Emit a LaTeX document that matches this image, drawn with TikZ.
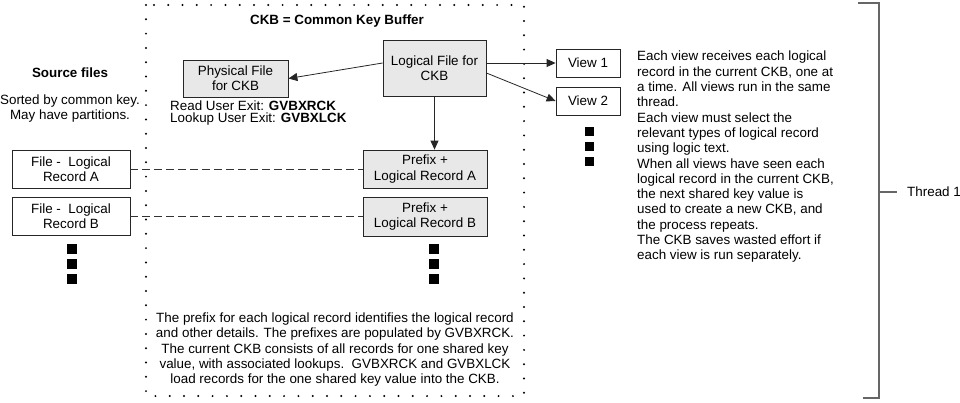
\documentclass[tikz,border=0pt]{standalone}
\usepackage{fontspec}
\setmainfont{Liberation Sans}
\usetikzlibrary{arrows.meta}
\begin{document}
\begin{tikzpicture}[x=1pt,y=-1pt,
  every node/.style={font=\fontsize{13.4}{15.3}\selectfont},
  greybox/.style={draw=black!85, line width=0.8pt, fill=black!9, align=center, inner sep=0pt},
  whitebox/.style={draw=black!85, line width=0.8pt, fill=white, align=center, inner sep=0pt},
  conn/.style={draw=black!85, line width=0.8pt, -{Triangle[length=9pt,width=8pt]}},
  dashconn/.style={draw=black!80, line width=0.8pt, dash pattern=on 8pt off 4pt},
  sq/.style={fill=black, draw=none, minimum size=9.5pt, inner sep=0pt},
  plain/.style={inner sep=0pt},
  frame/.style={draw=black, line width=2.2pt, line cap=round, dash pattern=on 0pt off 14.3pt},
  bracket/.style={draw=black!60, line width=1.3pt}
]
\useasboundingbox (0,0) rectangle (960,402);

% dotted frame
\draw[frame] (146,5) rectangle (524,396);

% title
\node[plain, font=\fontsize{13.4}{15.3}\selectfont\bfseries] (title) at (337,21) {CKB = Common Key Buffer};

% boxes inside frame
\node[greybox, minimum width=105pt, minimum height=37pt] (phys) at (235.5,78.5) {Physical File\\for CKB};
\node[greybox, minimum width=103pt, minimum height=56pt] (logical) at (434.5,68) {Logical File for\\CKB};
\node[plain, anchor=north west, align=left, font=\fontsize{13.4}{12}\selectfont] (exits) at (170,100.5)
  {Read User Exit: \textbf{GVBXRCK}\\Lookup User Exit: \textbf{GVBXLCK}};
\node[greybox, minimum width=124pt, minimum height=38pt] (prefA) at (425,169) {Prefix +\\Logical Record A};
\node[greybox, minimum width=124pt, minimum height=39pt] (prefB) at (425,216.5) {Prefix +\\Logical Record B};

\node[sq] (pq1) at (434,249) {};
\node[sq] (pq2) at (434,264) {};
\node[sq] (pq3) at (434,279) {};

% bottom text
\node[plain, anchor=north, align=center] (note) at (335,312.5)
  {The prefix for each logical record identifies the logical record\\
   and other details. The prefixes are populated by GVBXRCK.\\
   The current CKB consists of all records for one shared key\\
   value, with associated lookups.\ \ GVBXRCK and GVBXLCK\\
   load records for the one shared key value into the CKB.};

% left side
\node[plain, font=\fontsize{13.4}{15.3}\selectfont\bfseries] (src) at (70,73) {Source files};
\node[plain, align=center, anchor=north] (sorted) at (70,94.5) {Sorted by common key.\\May have partitions.};
\node[whitebox, minimum width=118pt, minimum height=38pt] (fileA) at (71,169) {File -\ \ Logical\\Record A};
\node[whitebox, minimum width=118pt, minimum height=38pt] (fileB) at (71,216.5) {File -\ \ Logical\\Record B};
\node[sq] (fq1) at (72,249) {};
\node[sq] (fq2) at (72,264) {};
\node[sq] (fq3) at (72,279) {};

% views
\node[whitebox, minimum width=64pt, minimum height=28pt] (view1) at (588,63) {View 1};
\node[whitebox, minimum width=64pt, minimum height=28pt] (view2) at (588,101) {View 2};
\node[sq, minimum size=9pt] (vq1) at (589,131) {};
\node[sq, minimum size=9pt] (vq2) at (589,146) {};
\node[sq, minimum size=9pt] (vq3) at (589,161) {};

% right text
\node[plain, anchor=north west, align=left] (desc) at (637,51)
  {Each view receives each logical\\
   record in the current CKB, one at\\
   a time. All views run in the same\\
   thread.\\
   Each view must select the\\
   relevant types of logical record\\
   using logic text.\\
   When all views have seen each\\
   logical record in the current CKB,\\
   the next shared key value is\\
   used to create a new CKB, and\\
   the process repeats.\\
   The CKB saves wasted effort if\\
   each view is run separately.};

% connectors
\draw[conn] ([yshift=5pt]logical.west) -- (phys.east);
\draw[conn] ([yshift=5pt]logical.east) -- (view1.west);
\draw[conn] ([yshift=-5pt]logical.east) -- (view2.west);
\draw[conn] (logical.south) -- (logical.south |- prefA.north);
\draw[dashconn] (fileA.east) -- (prefA.west);
\draw[dashconn] (fileB.east) -- (prefB.west);

% bracket
\coordinate (btop) at (858,3);
\coordinate (bbot) at (863,398);
\coordinate (bmid) at (879,192);
\node[plain, anchor=west] (thread) at (907,192) {Thread 1};
\draw[bracket] (btop) -- (879,3) -- (879,398) -- (bbot);
\draw[bracket] (bmid) -- ([xshift=-10pt]thread.west);
\end{tikzpicture}
\end{document}
